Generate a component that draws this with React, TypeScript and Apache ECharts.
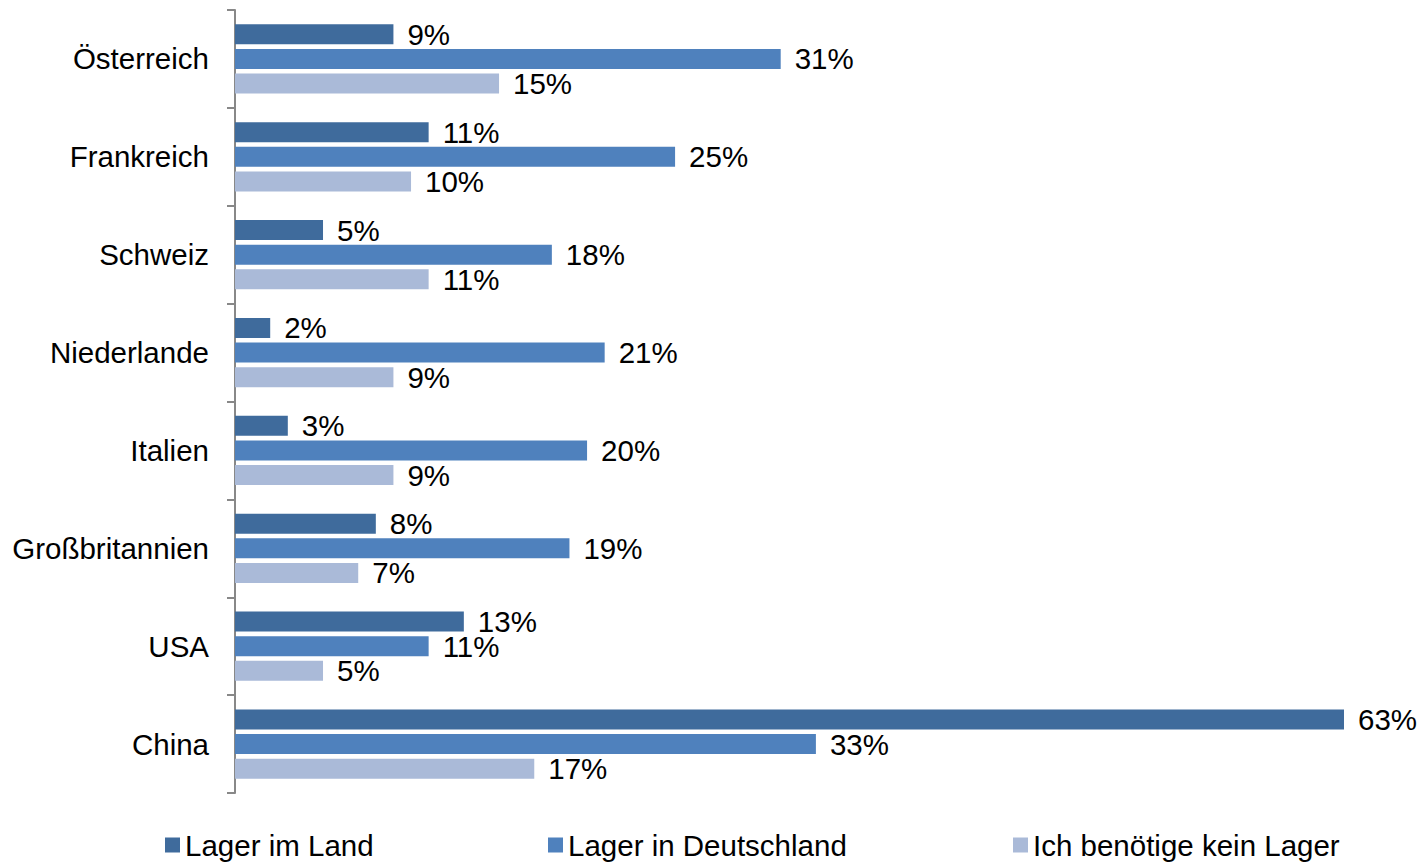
import React, { useEffect, useRef } from "react";
import * as echarts from "echarts";

const categories = ["Österreich", "Frankreich", "Schweiz", "Niederlande", "Italien", "Großbritannien", "USA", "China"];
const seriesNames = ["Lager im Land", "Lager in Deutschland", "Ich benötige kein Lager"];
const lagerImLand = [9, 11, 5, 2, 3, 8, 13, 63];
const lagerInDeutschland = [31, 25, 18, 21, 20, 19, 11, 33];
const keinLager = [15, 10, 11, 9, 9, 7, 5, 17];
const colors = ["#3F6B9C", "#4F81BD", "#AABAD8"];

const FONT = "'Liberation Sans', Arial, sans-serif";
const FS = 29.5;

export default function App() {
  const ref = useRef<HTMLDivElement>(null);
  useEffect(() => {
    if (!ref.current) return;
    const chart = echarts.init(ref.current, null, { renderer: "svg" });
    const allData = [lagerImLand, lagerInDeutschland, keinLager];
    const maxVal = Math.max(...allData.flat());
    const legendLefts = [165, 548, 1013];
    chart.setOption({
      animation: false,
      textStyle: { fontFamily: FONT },
      grid: { left: 235, right: 77, top: 10, bottom: 69, containLabel: false },
      legend: seriesNames.map((n, i) => ({
        data: [n],
        left: legendLefts[i],
        top: 830,
        padding: 0,
        itemWidth: 15,
        itemHeight: 15,
        icon: "rect",
        itemGap: 0,
        textStyle: { fontSize: FS, lineHeight: 30, color: "#000", fontFamily: FONT },
      })),
      xAxis: {
        type: "value",
        min: 0,
        max: maxVal,
        show: false,
      },
      yAxis: {
        type: "category",
        data: categories,
        inverse: true,
        axisLine: { show: true, lineStyle: { color: "#888888", width: 2 } },
        axisTick: { show: true, length: 8, lineStyle: { color: "#888888", width: 2 } },
        axisLabel: { fontSize: FS, color: "#000", margin: 26, fontFamily: FONT },
      },
      series: seriesNames.map((n, i) => ({
        name: n,
        type: "bar",
        data: allData[i],
        barWidth: 20,
        barGap: "23%",
        itemStyle: { color: colors[i] },
        label: {
          show: true,
          position: "right",
          distance: 14,
          formatter: "{c}%",
          fontSize: FS,
          color: "#000",
          fontFamily: FONT,
        },
      })),
    });
    return () => chart.dispose();
  }, []);
  return <div ref={ref} style={{ width: 1421, height: 862, position: "absolute", left: 0, top: 0 }} />;
}
